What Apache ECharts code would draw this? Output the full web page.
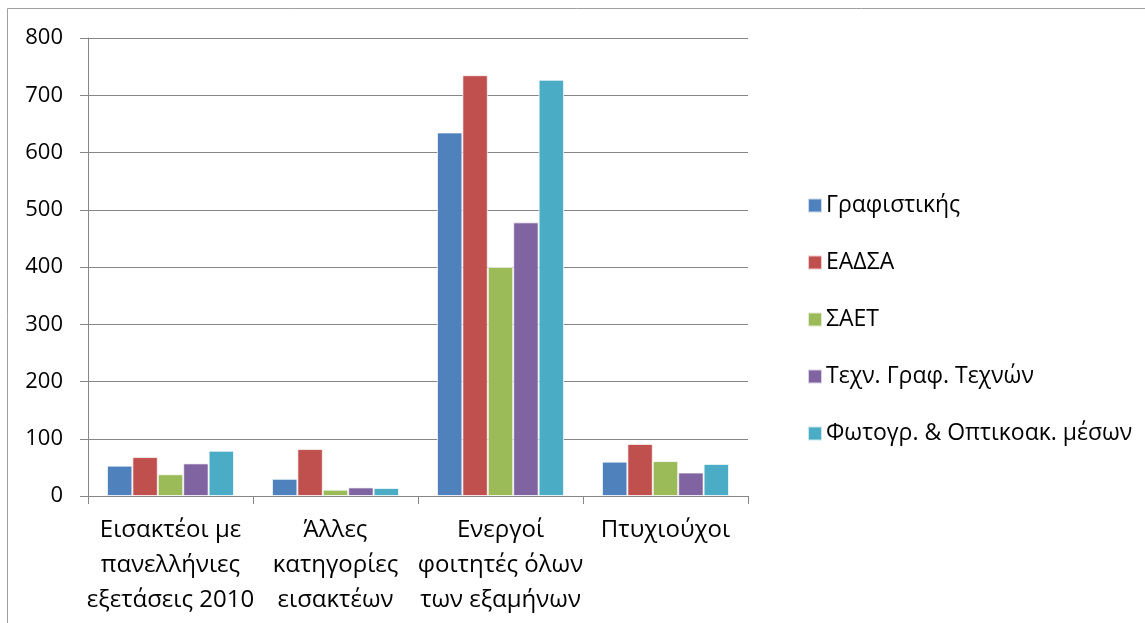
<!DOCTYPE html>
<html><head><meta charset="utf-8">
<script src="https://cdn.jsdelivr.net/npm/echarts@6/dist/echarts.min.js"></script>
<style>html,body{margin:0;padding:0;background:#fff;}#c{width:1145px;height:623px;}</style>
</head><body><div id="c"></div>
<script>
const categories = ["Εισακτέοι με\nπανελλήνιες\nεξετάσεις 2010", "Άλλες\nκατηγορίες\nεισακτέων", "Ενεργοί\nφοιτητές όλων\nτων εξαμήνων", "Πτυχιούχοι"];
const seriesNames = ["Γραφιστικής", "ΕΑΔΣΑ", "ΣΑΕΤ", "Τεχν. Γραφ. Τεχνών", "Φωτογρ. & Οπτικοακ. μέσων"];
const grafistikis = [53, 30, 635, 60];
const eadsa = [68, 82, 735, 91];
const saet = [38, 11, 400, 61];
const techn = [57, 15, 478, 41];
const foto = [79, 14, 727, 56];
const colors = ["#4F81BD", "#C0504D", "#9BBB59", "#8064A2", "#4BACC6"];
const yTicks = [0, 100, 200, 300, 400, 500, 600, 700, 800];

const allData = [grafistikis, eadsa, saet, techn, foto];
const font = "Open Sans";
const chart = echarts.init(document.getElementById('c'), null, {renderer: 'canvas'});
chart.setOption({
  animation: false,
  color: colors,
  textStyle: {fontFamily: font},
  graphic: [
    {type: 'rect', shape: {x: 7.5, y: 8.5, width: 1200, height: 700}, style: {fill: 'none', stroke: '#A0A0A0', lineWidth: 1}, silent: true}
  ],
  grid: {left: 88, top: 38, width: 660, height: 458, containLabel: false},
  legend: {
    orient: 'vertical', left: 802, top: 189, itemGap: 34, itemWidth: 14, itemHeight: 14,
    icon: 'rect',
    textStyle: {fontSize: 23, color: '#000', fontFamily: font, padding: [0, 0, 0, -1]},
    data: seriesNames
  },
  xAxis: {
    type: 'category', data: categories,
    axisLine: {lineStyle: {color: '#868686', width: 1}},
    axisTick: {show: true, length: 8, lineStyle: {color: '#868686'}},
    axisLabel: {fontSize: 24, color: '#000', lineHeight: 35, margin: 17, interval: 0, fontFamily: font}
  },
  yAxis: {
    type: 'value', min: 0, max: 800, interval: 100,
    axisLine: {show: true, lineStyle: {color: '#868686'}},
    axisTick: {show: true, length: 8, lineStyle: {color: '#868686'}},
    splitLine: {lineStyle: {color: '#868686', width: 1}},
    axisLabel: {fontSize: 22, color: '#000', margin: 25, fontFamily: font,
      formatter: v => yTicks.includes(v) ? String(v) : ''}
  },
  series: allData.map((d, i) => ({
    name: seriesNames[i], type: 'bar', data: d,
    barGap: '0%', barCategoryGap: '23%',
    itemStyle: {color: colors[i], borderColor: 'rgba(255,255,255,0.7)', borderWidth: 1}
  }))
});
</script></body></html>
